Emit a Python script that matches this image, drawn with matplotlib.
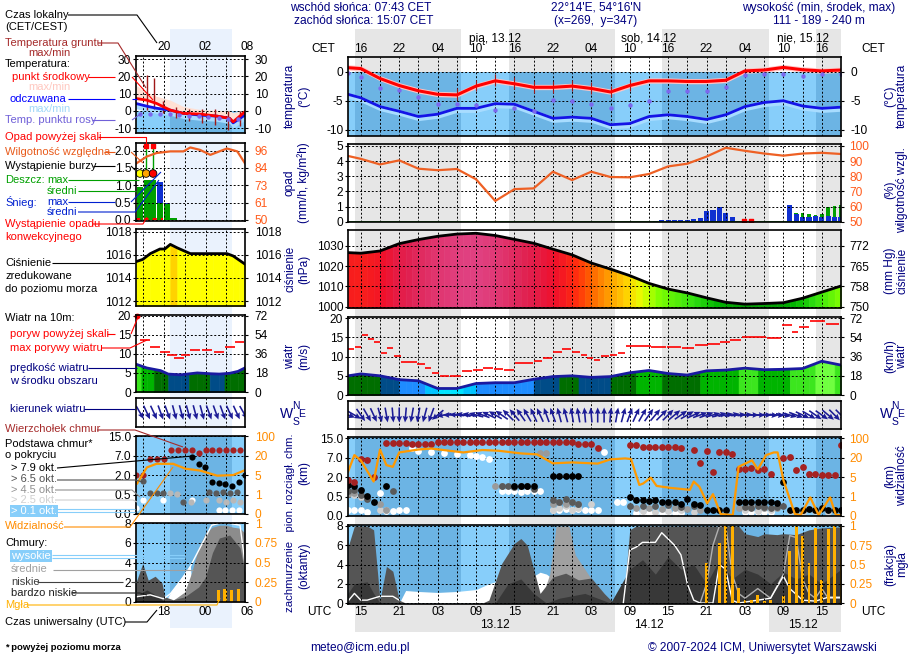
import numpy as np
import matplotlib.pyplot as plt
from matplotlib.colors import LinearSegmentedColormap

plt.rcParams['font.family'] = ['Liberation Sans', 'DejaVu Sans']
plt.rcParams['font.size'] = 8.6

# ---------------- main forecast, hours from 13.12 00 UTC ----------------
HOURS = [-11, -9, -6, -3, 0, 3, 6, 9, 12, 15, 18, 21, 24, 27, 30, 33, 36, 39, 42, 45, 48, 51, 54, 57, 60, 63, 66]
T_MID = [0.65, 0.5, -1.2, -2.4, -3.3, -3.9, -4.0, -2.5, -1.6, -2.1, -2.7, -2.7, -2.5, -2.9, -3.5, -2.4, -1.6, -1.6, -1.7, -1.7, -1.5, 0.1, 0.25, 0.7, 0.3, 0.1, 0.25]
T_FEEL = [-3.9, -4.5, -6.0, -6.8, -7.7, -7.3, -6.3, -6.3, -5.5, -5.6, -6.8, -8.0, -7.8, -8.0, -9.1, -8.9, -7.7, -7.4, -7.7, -8.2, -7.4, -6.0, -5.3, -5.0, -5.9, -6.3, -6.1]
T_DEW = [-0.3, -1.0, -2.8, -3.2, -4.3, -5.5, -5.6, -5.8, -6.5, -6.2, -6.8, -4.9, -5.1, -5.6, -6.2, -5.8, -5.0, -3.3, -3.3, -3.4, -2.6, -0.6, -0.4, -0.4, -0.8, -0.5, -0.5]
RH = [93.4, 91.5, 87.8, 90.5, 85.0, 84.0, 84.8, 78.0, 63.7, 71.5, 72.0, 83.0, 77.5, 83.0, 79.5, 79.3, 81.5, 86.5, 88.3, 93.0, 98.8, 96.8, 95.0, 93.6, 95.0, 95.5, 94.7]
PRES = [1026.6, 1026.3, 1027.4, 1031.0, 1033.0, 1034.6, 1035.7, 1036.1, 1035.0, 1033.1, 1031.2, 1028.3, 1025.5, 1021.5, 1018.5, 1015.3, 1011.5, 1008.7, 1006.8, 1004.4, 1002.2, 1001.3, 1001.6, 1002.0, 1004.2, 1007.2, 1010.2]
WIND = [5.0, 5.5, 5.0, 4.0, 3.7, 1.7, 1.7, 3.0, 3.2, 3.2, 4.1, 4.8, 5.0, 4.6, 4.8, 5.8, 6.4, 5.6, 5.2, 6.3, 6.5, 7.0, 6.6, 6.7, 6.9, 8.8, 7.8]

# wind direction (deg, from), hourly
DIR_H = list(range(-11, 67))
WIND_DIR = [290, 300, 325, 330, 335, 345, 350, 355, 0, 5, 10, 10, 15, 20,
            50, 80, 90, 95, 100, 100, 105, 110, 115, 120, 125,
            135, 140, 145, 150, 155, 155, 160, 160, 165, 165, 170, 170, 175, 175,
            180, 180, 185, 190, 195, 200, 205, 210, 215, 220, 225, 225, 230,
            235, 240, 245, 250, 250, 255, 255, 260, 260, 265, 265, 270, 270, 270,
            275, 275, 280, 285, 290, 295, 300, 305, 305, 310, 315, 315]

GUST_H = [-10.5, -9.4, -8.3, -7.4, -6.5, -5.4, -4.4, -3.4, -2.1, -0.9, 0.5, 1.5, 2.5, 4.0, 5.8, 7.6, 9.2, 11.0, 12.5, 14.1,
          15.9, 17.4, 18.6, 20.1, 21.7, 23.2, 24.7, 25.9, 26.8, 27.8, 29.1, 30.5, 31.7, 32.9, 35.1, 37.5, 40.0, 42.1, 44.2, 46.3,
          47.9, 49.4, 51.5, 53.3, 55.5, 57.9, 58.8, 60.0, 62.2, 64.9]
GUST = [11.9, 12.6, 15.6, 14.5, 13.9, 10.9, 12.2, 10.2, 8.5, 8.5, 8.0, 7.0, 5.7, 5.0, 5.0, 6.3, 6.5, 7.1, 6.7, 6.6,
        8.4, 8.4, 8.9, 9.6, 11.1, 11.9, 11.2, 10.5, 9.6, 9.0, 10.2, 10.4, 10.9, 12.8, 12.8, 12.6, 12.4, 12.2, 13.0, 13.4,
        13.9, 14.3, 15.0, 15.2, 14.8, 18.2, 16.5, 17.8, 19.2, 18.6]

SNOW_H = [37, 38, 39, 40, 41, 42, 43, 44, 45, 46, 47, 48, 49, 50, 51, 52, 53, 54, 55, 56, 57, 58, 59, 60, 61, 62, 63, 64, 65, 66]
SNOW = [0.03, 0.08, 0.08, 0.08, 0.1, 0.1, 0.15, 0.25, 0.7, 0.75, 1.0, 0.6, 0.3, 0, 0, 0, 0, 0, 0, 0, 0, 1.1, 0.5, 0.3, 0.3, 0.35, 0.3, 0.35, 0.3, 0.3]
RAIN_H = [58, 59, 60, 61, 62, 63, 64, 65, 66]
RAIN = [0.25, 0.6, 0.55, 0.5, 0.45, 0.5, 0.95, 1.05, 1.1]
CONV_H = [50.9, 51.9]

VIS_H = [-11, -10, -9, -7, -6, -5, -4, -3, 0, 2, 7, 10, 12.5, 16, 18.5, 21, 24, 28, 30, 32.3, 33.2, 34.5, 35.1, 36.3,
         37.2, 39.3, 42.4, 43, 43.9, 45.1, 46, 47.2, 49.1, 50, 52.1, 53, 54.3, 55.5, 56.1, 57, 58.8, 59.7, 61.2, 62.5,
         64.3, 65.2, 66]
VIS = [9.2, 31, 18, 4.1, 54, 14.3, 13, 42, 54, 58, 42, 52, 49, 38, 34, 15.7, 16.4, 15.5, 18.8, 19.5, 19, 3.4, 3.7, 4.9,
       3.2, 2.8, 2.4, 4.1, 3.0, 0.65, 1.5, 0.1, 0.05, 13, 18, 11, 31, 42, 42, 4.4, 0.1, 0.05, 0.96, 0.05,
       0.96, 0.05, 0.05]

TOP_H = [-11, -10, -9, -8, -7, -5, -4, -3, -2, -1, 0, 1, 2, 3, 4, 5, 6, 7, 8, 9, 10, 11, 12, 13, 14, 15, 16, 17, 18,
         19, 20, 21, 22, 23, 24, 25, 26, 27, 28, 33, 34, 35, 36, 37, 38, 39, 40, 41, 43, 44, 45, 46, 47, 48, 49, 50,
         51, 52, 53, 54, 55, 57, 58, 59, 60, 61, 62, 63, 64, 65, 66]
TOP_KM = [1.8, 1.6, 6.8, 6.3, 2.1, 12.9, 12.9, 12.9, 12.9, 12.7, 12.7, 12.7, 12.7, 13.5, 13.5, 13.5, 13.5, 13.5, 13.5,
          13.5, 13.5, 13.5, 13.5, 13.5, 13.5, 13.5, 13.5, 13.5, 13.5, 13.5, 13.5, 13.5, 13.5, 13.5, 13.5, 12.7, 12.7,
          12.7, 10.9, 12.3, 12.3, 11.3, 11.3, 11.3, 11.3, 11.3, 11.3, 11.0, 10.4, 5.7, 9.7, 3.4, 9.5, 9.5, 8.6, 4.2,
          4.0, 4.3, 3.9, 4.1, 2.7, 7.0, 7.2, 3.8, 4.7, 2.9, 2.8, 2.6, 2.6, 2.5, 12.3]
BLK_H = [-11, -10, -9, -8, -7, -5, 15, 16, 17, 18, 21, 22, 23, 24, 25, 33, 34, 35, 36, 37, 38, 39, 40, 41, 42, 43, 44,
         45, 46, 47, 48, 50, 51, 52, 53, 54, 55, 56, 57, 58, 59, 60, 61, 62, 63, 64, 65, 66]
BLK_KM = [1.4, 1.3, 1.0, 0.55, 0.35, 1.3, 1.3, 1.3, 1.3, 1.3, 2.2, 2.2, 2.2, 2.2, 2.2, 0.5, 0.4, 0.4, 0.38, 0.4, 0.37,
          0.36, 0.35, 0.3, 0.45, 0.3, 0.28, 0.15, 0.15, 0.15, 0.15, 0.37, 0.35, 0.35, 0.35, 0.35, 0.35, 0.33, 1.6, 0.15,
          0.15, 0.15, 0.18, 0.15, 0.2, 0.15, 0.15, 0.15]
DG_H = [-11, -10, -9, -8, -4, 13, 14, 15, 16, 17, 18, 21, 22, 23, 24, 25, 33, 35, 37, 39, 41, 43, 51, 52, 53, 54, 55, 56, 57]
DG_KM = [0.9, 1.0, 0.6, 0.45, 0.9, 1.3, 1.3, 1.25, 1.3, 1.3, 1.1, 0.4, 0.35, 0.45, 0.35, 0.3, 0.25, 0.25, 0.25, 0.28,
         0.22, 0.25, 0.22, 0.2, 0.25, 0.22, 0.2, 0.22, 0.25]
GR_H = [-11, -10, -6, -5, 12, 13, 19, 20, 21, 22, 23, 24, 25, 34, 36, 38, 40, 42, 44, 50, 52, 54, 56]
GR_KM = [0.7, 0.75, 0.3, 0.15, 1.3, 1.3, 9.0, 9.0, 0.3, 0.35, 0.3, 0.35, 0.3, 0.2, 0.2, 0.18, 0.2, 0.18, 0.15, 0.2, 0.25,
         0.2, 0.2]
LG_H = [-10, -9, -6, -5, 21, 22, 23, 24, 25, 27, 35, 37, 39, 41, 43, 51, 53, 55, 58, 60, 62, 64]
LG_KM = [0.6, 0.5, 0.15, 0.15, 0.15, 0.2, 0.25, 0.15, 0.2, 0.3, 0.12, 0.1, 0.12, 0.15, 0.1, 0.15, 0.12, 0.15, 0.12, 0.1,
         0.12, 0.1]
WH_H = [-11, -10, -9, -8, -6, -5, -4, -3, -2, -1, 0, 2, 4, 6, 8, 9, 10, 11, 13, 14, 15, 16, 17, 18, 19, 21, 22, 23, 24,
        25, 26, 27, 28, 29, 31, 32, 34, 35, 36, 37, 38, 39, 40, 41, 51, 52, 53, 54, 55]
WH_KM = [0.15, 0.15, 0.15, 0.1, 0.8, 0.12, 0.12, 0.15, 0.15, 11.0, 9.6, 9.3, 9.0, 8.6, 8.1, 7.8, 7.3, 6.6, 0.9, 0.9,
         0.9, 0.85, 0.9, 0.9, 0.95, 0.15, 0.15, 0.18, 0.15, 0.18, 0.15, 0.15, 0.15, 9.5, 0.37, 0.37, 0.08, 0.08, 0.08,
         0.08, 0.08, 0.08, 0.08, 0.08, 0.1, 0.1, 0.1, 0.1, 0.1]

# cloud cover (oktas)
LOW_H = [-11, -10, -8, -7, -6, -5, -4, -3, -2, 10, 11, 13, 15, 16, 17, 19, 21, 23, 25, 27, 29, 30.5, 32, 33, 34, 50,
         51, 53, 54, 56, 57, 59, 61, 63, 66]
LOW = [5.8, 8.0, 8.0, 7.6, 0.3, 3.8, 3.3, 0.3, 0, 0, 0.3, 4.1, 6.2, 6.7, 6.0, 1.0, 2.7, 3.1, 2.4, 2.6, 1.0, 0, 0, 7.6,
       8.0, 8.0, 7.2, 6.9, 7.2, 7.1, 7.2, 7.1, 7.6, 7.8, 7.9]
MID_H = [-11, 19, 20.5, 21.5, 23.5, 24.5, 26, 27, 29, 30, 66]
MID = [0, 0, 3.0, 8.0, 8.0, 5.0, 3.5, 2.5, 1.0, 0, 0]
VLOW_H = [-11, -10, -8, -7, -6, 12, 14, 16, 18, 20, 22, 26, 30, 33, 35, 37, 39, 41, 43, 45, 47, 49, 51, 53, 55, 57,
          59, 61, 63, 66]
VLOW = [1.0, 2.0, 2.2, 1.0, 0, 0, 2.0, 2.5, 1.0, 0, 0.5, 1.0, 0, 3.5, 4.5, 3.0, 4.8, 3.5, 4.0, 2.0, 4.5, 2.5, 3.5,
        3.0, 2.0, 3.2, 2.5, 3.0, 2.0, 3.5]
HIGHF_H = [-3, -2, 0, 3, 6, 9, 11, 13, 15, 16, 17, 18, 19, 20, 21, 22]
HIGHF = [0, 1.3, 1.2, 1.1, 1.2, 1.4, 2.0, 2.4, 2.0, 2.0, 2.8, 2.8, 3.2, 3.0, 2.5, 0]
HIGHL_H = [-11, -10, -9, -8, -6, -4, -3, -2, 32, 33, 34, 35, 37, 38, 40, 41, 42, 43, 44, 46, 47, 48, 49, 50, 55, 57,
           58, 60, 62, 64, 66]
HIGHL = [0.2, 1.0, 0.3, 0.3, 0.7, 0.7, 0.3, np.nan, 0, 5.5, 5.8, 6.3, 6.3, 7.3, 6.0, 5.0, 2.0, 0.3, 0, 0, 4.0, 3.5,
         0.3, 0, 0.5, 2.8, 1.5, 0.3, 0.2, 0.6, 0.6]
MIDL_H = [44, 45, 46, 47, 48, 49, 50, 51, 53, 55, 57, 58, 59, 60, 61, 62, 63, 64, 66]
MIDL = [0, 2.0, 6.0, 8.0, 8.0, 3.0, 1.0, 0.5, 1.5, 0.5, 3.0, 7.0, 6.8, 2.5, 1.0, 0.5, 1.5, 0.5, 0.5]
FOG_H = [45, 46, 47, 48, 49, 50, 51, 52, 53, 54, 55, 56, 57, 58, 59, 60, 61, 62, 63, 64, 65, 66]
FOG = [0.52, 0, 0.78, 1.0, 1.0, 0.19, 0.04, 0.04, 0.1, 0.03, 0.04, 0, 0.09, 0.67, 1.0, 0.87, 0.52, 0.98, 0.3, 0.96, 1.0, 1.0]

# ---------------- small panel (previous night), hours from 12.12 00 UTC ----------------
MT_H = [-10.1, -8.5, -7.1, -5.1, -3.2, -0.8, 1.7, 3.5, 4.0, 5.7]
MT_RED = [7.2, 6.2, 4.3, 0.4, -1.5, -1.9, -3.1, -4.4, -6.4, -0.6]
MT_MAX = [14.9, 11.0, 8.5, 6.2, 2.5, 0.8, 0.2, 0.0, -1.0, 0.5]
MT_BLUE = [4.3, 2.7, 1.5, 0.4, -1.5, -2.5, -3.1, -4.4, -7.0, -2.5]
MGT_H = [-8.5, -7.5, -6.1, -4.3, -2.4, -0.5, 1.4, 3.2, 5.0]
MGT_TOP = [21, 19, 6, 2, 1, 1, 1, 0, 0]
MGT_BOT = [0.5, 1, -1, -4, -6, -7, -8, -11, -9]
MD_H = [-9.5, -8.0, -6.6, -5.2, -3.8, -2.4, -1.0, 0.4, 1.9, 3.3, 4.7]
MD = [-1.8, -1.8, -1.8, -2.0, -2.5, -2.8, -3.0, -3.5, -4.0, -4.5, -5.0]
MR_H = [-10.1, -8.5, -7.1, -5.1, -3.2, -2.2, -0.8, 0.7, 3.1, 4.6, 5.7]
MR = [87.3, 92.1, 94.4, 95.5, 95.5, 98.1, 96.5, 93.2, 97.4, 95.5, 87.7]
MP_H = [-9.5, -8.5, -7.6, -6.6, -5.6, -4.6]
MP_RAIN = [0.94, 1.16, 1.16, 0.5, 0.45, 0.05]
MP_SNOW = [0, 0, 0, 0.6, 0.05, 0]
MS_H = [-9.5, -8.6, -7.6]
MPR_H = [-10.1, -9.1, -8.0, -6.6, -5.9, -5.1, -4.1, -2.2, -0.8, 3.1, 4.0, 5.7]
MPR = [1015.4, 1015.6, 1016.1, 1016.5, 1016.5, 1016.9, 1016.6, 1016.1, 1016.1, 1016.1, 1015.9, 1015.2]
MW_H = [-10.1, -8.5, -6.5, -5.4, -3.6, -1.2, 0.6, 2.0, 3.5, 4.7, 5.7]
MW = [7.3, 6.3, 5.6, 4.7, 4.5, 5.0, 4.8, 4.7, 4.9, 5.4, 6.3]
MGU_H = [-8.8, -7.3, -5.9, -4.9, -3.8, -2.9, -1.5, 0.2, 2.0, 3.5, 4.9]
MGU = [13.7, 11.9, 10.6, 9.7, 8.9, 9.7, 11.0, 10.9, 10.6, 11.7, 13.0]
MDIR_H = [-9.5, -8.5, -7.5, -6.5, -5.5, -4.5, -3.5, -2.5, -1.5, -0.5, 0.5, 1.5, 2.5, 3.5, 4.5, 5.5]
MDIR = [330, 335, 335, 340, 340, 345, 345, 345, 345, 345, 340, 340, 340, 335, 335, 330]
MTOP_H = [-10, -9, -8, -7, -6, -5, -4, -3, -2, -1, 0, 1, 2, 3, 4, 5]
MTOP = [2.0, 2.0, 6.2, 6.2, 6.2, 9.4, 9.4, 9.4, 9.4, 8.0, 9.4, 9.4, 9.4, 9.4, 9.4, 9.4]
MBLK_H = [-2.0, -1.0, -0.1, 0.9, 1.9, 2.8, 3.9, 4.9, 5.7]
MBLK = [6.8, 4.9, 4.0, 1.5, 1.4, 1.3, 1.2, 1.5, 2.0]
MDG_H = [-9.0, -8.0, -7.1, -6.1, -3.3, 0.5, 1.5, 2.5, 3.5, 4.5]
MDG = [1.55, 0.6, 0.6, 0.6, 0.3, 0.7, 0.6, 0.7, 0.6, 0.7]
MLG_H = [-5.1, -4.1, -2.1, 0.0, 2.0, 3.0, 4.0, 5.0]
MLG = [0.6, 0.55, 0.3, 0.35, 0.35, 0.3, 0.35, 0.3]
MWH_H = [-10.0, -9.0, -6.1, -2.0, 1.9, 2.8, 3.8, 4.8]
MWH = [0.15, 0.35, 0.35, 0.35, 0.1, 0.1, 0.1, 0.1]
MV_H = [-9.9, -8.5, -7.1, -4.7, -2.9, -0.8, 1.7, 4.0, 5.6]
MV = [3.3, 11, 13.8, 13.8, 10, 8.6, 4.9, 5.1, 8.6]
ML_H = [-10.1, -9.1, -8.3, -7.3, -6.3, -5.9, -4.7, -3.0, -1.0, 0.0, 1.0, 2.0, 3.5, 5.0, 5.7]
ML = [1.9, 3.9, 2.2, 2.6, 1.9, 0.5, 0.2, 0.5, 1.5, 2.5, 5.0, 6.5, 6.8, 5.5, 3.0]
MM_H = [-5.0, -3.0, -2.0, -1.0, 0.0, 1.0, 2.0, 3.0, 4.0, 5.0, 5.7]
MM = [0, 1.0, 3.0, 5.5, 7.0, 7.6, 7.8, 7.8, 7.6, 7.5, 7.0]
MHI_H = [-5.8, -5.0, -4.0, -3.0, -2.2, -1.8]
MHI = [0, 1.0, 2.0, 3.0, 3.7, 0]
MVL_H = [-10.1, -9.5, -8.5, -7.5, -6.5, -5.9]
MVL = [0.3, 0.8, 1.2, 0.8, 0.3, 0]
MHL_H = [-10.1, -8.0, -6.1, -5.1, -3.2, -2.2, 0.9, 2.0, 3.5, 5.0, 5.7]
MHL = [0.5, 0.7, 0.3, 0.8, 2.5, 3.6, 7.8, 8.0, 8.0, 7.8, 4.0]
MF_H = [1.9, 2.8, 3.8, 4.8]
MF = [0.15, 0.16, 0.15, 0.16]

MMHG_LABELS = ['750', '758', '765', '772']
DAY_LABELS = ['pią, 13.12', 'sob, 14.12', 'nie, 15.12']
DATE_LABELS = ['13.12', '14.12', '15.12']
SUNRISE = 6 + 43 / 60   # UTC
SUNSET = 14 + 7 / 60

# ---------------- layout helpers ----------------
W, H = 910, 660
fig = plt.figure(figsize=(W / 100, H / 100), dpi=100)
NAVY = '#000080'
GRAY = '#e6e6e6'
SKY_D, SKY_N = '#87cefa', '#6cb4e4'
XL = (-11, 66)
XLM = (-10.07, 5.72)
MAIN_GRID = list(range(-9, 67, 3))
MINI_GRID = [-9, -6, -3, 0, 3]
MX0, MX1 = 348, 841
NX0, NX1 = 136, 245

NIGHTS = []
for d in range(4):
    NIGHTS.append((max(SUNSET + 24 * (d - 1), XL[0]), min(SUNRISE + 24 * d, XL[1])))
MINI_BAND = [(-5.1, 3.8)]


def px_axes(x0, y0, x1, y1, z=2):
    return fig.add_axes([x0 / W, 1 - y1 / H, (x1 - x0) / W, (y1 - y0) / H], zorder=z)


def segments(xl, bands):
    out, x = [], xl[0]
    for a, b in bands:
        if a > x:
            out.append((x, a, False))
        out.append((a, b, True))
        x = b
    if x < xl[1]:
        out.append((x, xl[1], False))
    return out


def panel(x0, y0, x1, y1, xl, grid, ylim, yticks, ylabels):
    ax = px_axes(x0, y0, x1, y1, 2)
    ax.set_facecolor('none')
    ax.set_xlim(xl)
    ax.set_ylim(ylim)
    ax.set_xticks(grid)
    ax.tick_params(axis='x', length=0, labelbottom=False)
    ax.set_yticks(yticks)
    ax.set_yticklabels(ylabels)
    ax.tick_params(axis='y', length=2, width=0.8, pad=1.5, labelsize=8.6)
    ax.grid(True, color='black', lw=0.7, ls=(0, (2, 2)))
    ax.set_axisbelow(False)
    for s in ax.spines.values():
        s.set_linewidth(1.2)
        s.set_zorder(6)
    return ax


def right_axis(ax, ticks, labels, color='black', pad=4):
    t = ax.twinx()
    t.set_zorder(ax.get_zorder())
    t.set_ylim(ax.get_ylim())
    t.set_yticks(ticks)
    t.set_yticklabels(labels, color=color)
    t.tick_params(axis='y', length=2, width=0.8, pad=pad, labelsize=8.6)
    for s in t.spines.values():
        s.set_visible(False)


def band_fill(ax, xl, bands, y0, y1, c_out, c_in):
    for a, b, inside in segments(xl, bands):
        ax.fill_between([a, b], y0, y1, color=c_in if inside else c_out, lw=0, zorder=0.8)


def strips(ax, hs, vs, base, colorfn):
    for i in range(len(hs) - 1):
        h0, h1, v0, v1 = hs[i], hs[i + 1], vs[i], vs[i + 1]
        n = max(1, int(round(h1 - h0)))
        for k in range(n):
            a, b = h0 + (h1 - h0) * k / n, h0 + (h1 - h0) * (k + 1) / n
            va, vb = v0 + (v1 - v0) * k / n, v0 + (v1 - v0) * (k + 1) / n
            c = colorfn(0.5 * (va + vb))
            ax.fill_between([a, b], base, [va, vb], facecolor=c, edgecolor=c, lw=0.4, zorder=1)


P_NODES = [1000, 1003, 1006, 1010, 1013, 1016, 1019, 1022, 1025, 1028, 1032, 1036]
P_COLORS = ['#0a8c0a', '#00b400', '#30e010', '#80ff00', '#e8ff00', '#ffd000', '#ff9a00', '#ff5a00', '#ff2a10',
            '#f0102a', '#e02050', '#e04080']
pcmap = LinearSegmentedColormap.from_list('pres', [((v - 1000) / 36, c) for v, c in zip(P_NODES, P_COLORS)])
W_EDGES = [2, 3, 4.05, 4.85, 6, 6.8, 8, 8.7]
W_COLORS = ['#00e4ff', '#00c4ff', '#1e8cff', '#004c88', '#006e00', '#00b400', '#3ce61e', '#70ff40', '#c8ffa8']


def wind_color(v):
    return W_COLORS[int(np.searchsorted(W_EDGES, v, side='right'))]


def base_pos(v):
    return np.interp(v, [0, 0.5, 2, 7, 15], [0, 1, 2, 3, 4])


def vis_pos(v):
    return np.interp(v, [0, 1, 5, 20, 100], [0, 1, 2, 3, 4])


def arrows(ax, hs, dirs, length):
    d = np.radians(dirs)
    ax.quiver(hs, np.full(len(hs), 0.5), -np.sin(d) * length, -np.cos(d) * length, angles='uv',
              scale_units='dots', scale=1, units='dots', width=1.6, headwidth=3.6, headlength=4,
              headaxislength=3.6, pivot='middle', color='#1c1c96', zorder=3)


# ---------------- background columns ----------------
col = px_axes(MX0, 29, MX1, 604, 0.5)
col.set_xlim(XL)
col.axis('off')
for a, b in NIGHTS:
    col.axvspan(a, b, color=GRAY, lw=0)
mcol = px_axes(NX0, 29, NX1, 628, 0.5)
mcol.set_xlim(XLM)
mcol.axis('off')
for a, b in MINI_BAND:
    mcol.axvspan(a, b, color='#eaf2fd', lw=0)

# top / bottom time strips
top = px_axes(MX0, 29, MX1, 57, 1)
top.set_xlim(XL)
top.set_ylim(0, 1)
top.axis('off')
for h in range(-9, 66, 6):
    top.text(h, 0.27, f'{(h + 1) % 24:02d}', ha='center', va='center')
for h, s in zip([12, 36, 60], DAY_LABELS):
    top.text(h, 0.66, s, ha='center', va='center')

bot = px_axes(MX0, 604, MX1, 632, 1)
bot.set_xlim(XL)
bot.set_ylim(0, 1)
bot.axis('off')
for a, b in [(NIGHTS[0][0], NIGHTS[1][1]), (NIGHTS[2][1], XL[1])]:
    bot.axvspan(a, b, color=GRAY, lw=0)
for h in range(-9, 66, 6):
    bot.text(h, 0.7, f'{h % 24:02d}', ha='center', va='center')
for h, s in zip([12, 36, 60], DATE_LABELS):
    bot.text(h, 0.25, s, ha='center', va='center')

mtop = px_axes(NX0, 29, NX1, 56, 1)
mtop.set_xlim(XLM)
mtop.axis('off')
for h, s in zip([-6, 0, 6], ['20', '02', '08']):
    mtop.text(h, 0.33, s, ha='center', va='center')
mbot = px_axes(NX0, 602, NX1, 628, 1)
mbot.set_xlim(XLM)
mbot.axis('off')
for h, s in zip([-6, 0, 6], ['18', '00', '06']):
    mbot.text(h, 0.6, s, ha='center', va='center')

h = np.array(HOURS, dtype=float)

# ---------------- main: temperature ----------------
ax = panel(MX0, 57, MX1, 136, XL, MAIN_GRID, (-11.03, 2.48), [0, -5, -10], ['0', '-5', '-10'])
band_fill(ax, XL, NIGHTS, -11.03, 0, SKY_D, SKY_N)
tm, tf = np.array(T_MID), np.array(T_FEEL)
ax.fill_between(h, tf - 0.7, tf + 0.3, color='#a8dcff', lw=0, zorder=2.2)
ax.fill_between(h, tm - 0.4, tm + 0.5, color='#ffc4c4', lw=0, zorder=2.2)
sel = (h >= 6) & (h <= 33)
ax.vlines(h[sel], tm[sel] - 0.9, tm[sel] + 1.1, color='#a01818', lw=0.8, zorder=3)
ax.plot(h, tf, color='#1414e6', lw=2, zorder=3.2)
ax.plot(h, tm, color='#ff0000', lw=2.2, zorder=3.3)
ax.scatter(h, T_DEW, s=10, color='#7b68ee', lw=0, zorder=3.4)
right_axis(ax, [0, -5, -10], ['0', '-5', '-10'], pad=5)

# ---------------- main: precipitation / humidity ----------------
ax = panel(MX0, 144, MX1, 222, XL, MAIN_GRID, (-0.02, 5.13), [0, 1, 2, 3, 4, 5], ['0', '1', '2', '3', '4', '5'])
ax.bar(RAIN_H, RAIN, width=0.55, color='#00a000', lw=0, zorder=1.5)
ax.bar(SNOW_H, SNOW, width=0.8, color='#1030d0', lw=0, zorder=1.6)
ax.axhline(0, color='#00a000', lw=1.2, zorder=3)
ax.plot(h, (np.array(RH) - 50) / 10, color='#ee6024', lw=1.6, zorder=3)
ax.scatter(CONV_H, np.zeros(len(CONV_H)) + 0.05, marker='s', s=8, color='red', zorder=4)
right_axis(ax, [0, 1, 2, 3, 4, 5], ['50', '60', '70', '80', '90', '100'], color='#ff5a1a')

# ---------------- main: pressure ----------------
ax = panel(MX0, 230, MX1, 308, XL, MAIN_GRID, (999.4, 1037.7), [1000, 1010, 1020, 1030],
           ['1000', '1010', '1020', '1030'])
strips(ax, HOURS, PRES, 999.4, lambda v: pcmap((v - 1000) / 36))
ax.plot(h, PRES, color='black', lw=2, zorder=3)
right_axis(ax, [1000, 1010, 1020, 1030], MMHG_LABELS)

# ---------------- main: wind ----------------
ax = panel(MX0, 317, MX1, 395, XL, MAIN_GRID, (0, 20.34), [0, 5, 10, 15, 20], ['0', '5', '10', '15', '20'])
strips(ax, HOURS, WIND, 0, wind_color)
ax.plot(h, WIND, color='#1a1aa0', lw=2, zorder=3)
gh = np.array(GUST_H)
mids = (gh[1:] + gh[:-1]) / 2
left = np.concatenate([[gh[0] - 0.6], mids + 0.05])
right = np.concatenate([mids - 0.05, [gh[-1] + 0.8]])
ax.hlines(GUST, left, right, color='red', lw=1.2, zorder=3.5)
right_axis(ax, [0, 5, 10, 15, 20], ['0', '18', '36', '54', '72'])

# ---------------- main: wind direction ----------------
ax = panel(MX0, 401, MX1, 429, XL, MAIN_GRID, (0, 1), [], [])
arrows(ax, DIR_H, WIND_DIR, 15)

# ---------------- main: cloud base / visibility ----------------
ax = panel(MX0, 437, MX1, 516, XL, MAIN_GRID, (0, 4.07), [0, 1, 2, 3, 4], ['0.0', '0.5', '2.0', '7.0', '15.0'])
band_fill(ax, XL, NIGHTS, 0, 4.07, SKY_D, SKY_N)
for hs, km, c in [(WH_H, WH_KM, 'white'), (LG_H, LG_KM, '#d0d0d0'), (GR_H, GR_KM, '#9a9a9a'),
                  (DG_H, DG_KM, '#5a5a5a'), (BLK_H, BLK_KM, 'black'), (TOP_H, TOP_KM, '#a52222')]:
    ax.scatter(hs, base_pos(km), s=24, color=c, lw=0, zorder=3)
ax.plot(VIS_H, vis_pos(VIS), color='#ff9900', lw=1.6, zorder=3.5)
right_axis(ax, [0, 1, 2, 3, 4], ['0', '1', '5', '20', '100'], color='#ff8c00')

# ---------------- main: cloud cover / fog ----------------
ax = panel(MX0, 525, MX1, 604, XL, MAIN_GRID, (-0.1, 8.1), [0, 2, 4, 6, 8], ['0', '2', '4', '6', '8'])
band_fill(ax, XL, NIGHTS, -0.1, 8.1, SKY_D, SKY_N)
ax.fill_between(HIGHF_H, 0, HIGHF, color='white', lw=0, zorder=1)
ax.fill_between(MID_H, 0, MID, color='#a0a0a0', lw=0, zorder=1.1)
ax.fill_between(LOW_H, 0, LOW, color='#555555', lw=0, zorder=1.2)
ax.fill_between(VLOW_H, 0, VLOW, color='#383838', lw=0, zorder=1.3)
ax.plot(MIDL_H, MIDL, color='#b0b0b0', lw=1, zorder=1.4)
ax.plot(HIGHL_H, HIGHL, color='white', lw=1, zorder=1.5)
ax.bar(FOG_H, np.array(FOG) * 8, width=0.45, color='#ffb000', lw=0, zorder=1.8)
right_axis(ax, [0, 2, 4, 6, 8], ['0', '0.25', '0.5', '0.75', '1'], color='#ff8c00')

# ---------------- small panel ----------------
ax = panel(NX0, 56, NX1, 133, XLM, MINI_GRID, (-12.9, 31.9), [30, 20, 10, 0, -10], ['30', '20', '10', '0', '-10'])
band_fill(ax, XLM, MINI_BAND, -12.9, 0, SKY_D, SKY_N)
mb = np.array(MT_BLUE)
ax.fill_between(MT_H, mb - 3, mb, color='#a8dcff', lw=0, zorder=2.2)
ax.fill_between(MT_H, MT_RED, MT_MAX, color='#ffe0d4', lw=0, zorder=2.2)
ax.vlines(MGT_H, MGT_BOT, MGT_TOP, color='#a01818', lw=1, zorder=3)
ax.plot(MT_H, MT_BLUE, color='#1414e6', lw=2, zorder=3.2)
ax.plot(MT_H, MT_RED, color='#ff0000', lw=2, zorder=3.3)
ax.scatter(MD_H, MD, s=10, color='#7b68ee', lw=0, zorder=3.4)
right_axis(ax, [30, 20, 10, 0, -10], ['30', '20', '10', '0', '-10'], pad=5)

ax = panel(NX0, 143, NX1, 221, XLM, MINI_GRID, (-0.03, 2.22), [0, 0.5, 1, 1.5, 2], ['0.0', '0.5', '1.0', '1.5', '2.0'])
ax.bar(MP_H, MP_RAIN, width=0.95, color='#00a000', lw=0, zorder=1.5)
ax.bar(MP_H, MP_SNOW, bottom=MP_RAIN, width=0.95, color='#1030d0', lw=0, zorder=1.6)
ax.vlines(MS_H[1:], 1.34, 2.12, color='#00a000', lw=1, zorder=3)
ax.hlines(0.02, MP_H[0] - 0.5, MP_H[3] + 0.5, color='red', lw=1.5, ls=(0, (2, 2)), zorder=3)
ax.plot(MR_H, (np.array(MR) - 50) / 23, color='#ee6024', lw=1.6, zorder=3)
ax.scatter(MS_H, [1.34, 1.34, 1.34], s=30, color=['#ffff00', '#ffa500', '#ff0000'], edgecolor='black', lw=0.6, zorder=4)
ax.scatter(MS_H[1:], [2.12, 2.12], marker='s', s=12, color='red', zorder=4)
right_axis(ax, [0, 0.5, 1, 1.5, 2], ['50', '61', '73', '84', '96'], color='#ff5a1a', pad=5)

ax = panel(NX0, 229, NX1, 306, XLM, MINI_GRID, (1011.57, 1018.23), [1012, 1014, 1016, 1018],
           ['1012', '1014', '1016', '1018'])
strips(ax, MPR_H, MPR, 1011.57, lambda v: '#ffd200' if v > 1016.7 else '#ffff00')
ax.plot(MPR_H, MPR, color='black', lw=2, zorder=3)
right_axis(ax, [1012, 1014, 1016, 1018], ['1012', '1014', '1016', '1018'], pad=5)

ax = panel(NX0, 315, NX1, 392, XLM, MINI_GRID, (0, 20.18), [0, 5, 10, 15, 20], ['0', '5', '10', '15', '20'])
strips(ax, MW_H, MW, 0, wind_color)
ax.plot(MW_H, MW, color='#1a1aa0', lw=2, zorder=3)
ax.hlines(MGU, np.array(MGU_H) - 0.7, np.array(MGU_H) + 0.7, color='red', lw=1.2, zorder=3.5)
ax.scatter([-9.9], [19.9], s=10, color='red', zorder=4, clip_on=False)
right_axis(ax, [0, 5, 10, 15, 20], ['0', '18', '36', '54', '72'], pad=5)

ax = panel(NX0, 398, NX1, 427, XLM, MINI_GRID, (0, 1), [], [])
arrows(ax, MDIR_H, MDIR, 15)

ax = panel(NX0, 436, NX1, 514, XLM, MINI_GRID, (0, 4.02), [0, 1, 2, 3, 4], ['0.0', '0.5', '2.0', '7.0', '15.0'])
band_fill(ax, XLM, MINI_BAND, 0, 4.02, SKY_D, SKY_N)
for hs, km, c in [(MWH_H, MWH, 'white'), (MLG_H, MLG, '#b8b8b8'), (MDG_H, MDG, '#5a5a5a'),
                  (MBLK_H, MBLK, 'black'), (MTOP_H, MTOP, '#a52222')]:
    ax.scatter(hs, base_pos(km), s=20, color=c, lw=0, zorder=3)
ax.plot(MV_H, vis_pos(MV), color='#ff9900', lw=1.6, zorder=3.5)
right_axis(ax, [0, 1, 2, 3, 4], ['0', '1', '5', '20', '100'], color='#ff8c00', pad=5)

ax = panel(NX0, 523, NX1, 602, XLM, MINI_GRID, (-0.03, 8.03), [0, 2, 4, 6, 8], ['0', '2', '4', '6', '8'])
band_fill(ax, XLM, MINI_BAND, -0.03, 8.03, SKY_D, SKY_N)
ax.fill_between(MHI_H, 0, MHI, color='white', lw=0, zorder=1)
ax.fill_between(MM_H, 0, MM, color='#8c8c8c', lw=0, zorder=1.1)
ax.fill_between(ML_H, 0, ML, color='#555555', lw=0, zorder=1.2)
ax.fill_between(MVL_H, 0, MVL, color='#333333', lw=0, zorder=1.3)
ax.plot(MHL_H, MHL, color='white', lw=1, zorder=1.5)
ax.bar(MF_H, np.array(MF) * 8, width=0.5, color='#ffb000', lw=0, zorder=1.8)
right_axis(ax, [0, 2, 4, 6, 8], ['0', '0.25', '0.5', '0.75', '1'], color='#ff8c00', pad=5)

# ---------------- texts ----------------
ov = fig.add_axes([0, 0, 1, 1], zorder=30)
ov.set_xlim(0, W)
ov.set_ylim(H, 0)
ov.axis('off')


def label(x, y, s, color='black', ha='left', **kw):
    ov.text(x, y, s, color=color, ha=ha, va='center', **kw)


def note(x, y, s, color='black', size=8.0, **kw):
    ov.text(x, y, s, color=color, ha='left', va='center', fontsize=size, **kw)


def rot(x, y, s, color=NAVY, size=8.6):
    ov.text(x, y, s, color=color, ha='center', va='center', rotation=90, fontsize=size)


def link(pts, color, lw=0.8):
    xs, ys = zip(*pts)
    ov.plot(xs, ys, color=color, lw=lw, solid_capstyle='butt')


label(290, 8, 'wschód słońca: 07:43 CET', NAVY)
label(294, 21, 'zachód słońca: 15:07 CET', NAVY)
label(596, 8, "22°14'E, 54°16'N", NAVY, ha='center')
label(596, 21, '(x=269,  y=347)', NAVY, ha='center')
label(819, 8, 'wysokość (min, środek, max)', NAVY, ha='center')
label(819, 21, '111 - 189 - 240 m', NAVY, ha='center')
label(323, 49, 'CET', ha='center')
label(873, 49, 'CET', ha='center')
label(319, 612, 'UTC', ha='center')
label(873, 612, 'UTC', ha='center')
label(310, 648, 'meteo@icm.edu.pl', NAVY)
label(877, 648, '© 2007-2024 ICM, Uniwersytet Warszawski', NAVY, ha='right')

rot(290, 96, 'temperatura')
rot(304, 96, '(°C)')
rot(290, 183, 'opad')
rot(304, 183, '(mm/h, kg/m²h)')
rot(290, 269, 'ciśnienie')
rot(304, 269, '(hPa)')
rot(290, 356, 'wiatr')
rot(304, 356, '(m/s)')
rot(290, 523, 'zachmurzenie   pion. rozciągł. chm.', size=8.2)
rot(304, 473, '(km)')
rot(304, 566, '(oktanty)')
rot(890, 96, '(°C)')
rot(902, 96, 'temperatura')
rot(890, 190, '(%)')
rot(902, 190, 'wilgotność wzgl.')
rot(890, 271, '(mm Hg)')
rot(902, 271, 'ciśnienie')
rot(890, 356, '(km/h)')
rot(902, 356, 'wiatr')
rot(890, 476, '(km)')
rot(902, 476, 'widzialność')
rot(890, 564, '(frakcja)')
rot(902, 564, 'mgła')
for x0 in (287, 886):
    label(x0, 414, 'W', NAVY, ha='center', fontsize=10)
    label(x0 + 9, 406, 'N', NAVY, ha='center', fontsize=7.5)
    label(x0 + 9, 422, 'S', NAVY, ha='center', fontsize=7.5)
    label(x0 + 15, 414, 'E', NAVY, ha='center', fontsize=7.5)

BROWN = '#a52a2a'
note(5, 15, 'Czas lokalny')
note(5, 27, '(CET/CEST)')
link([(68, 15), (137, 15), (157, 43)], 'black')
note(5, 43, 'Temperatura gruntu', BROWN)
note(28, 53, 'max/min', BROWN)
link([(98, 43), (118, 43), (146, 88)], BROWN)
note(5, 64, 'Temperatura:')
note(12, 77, 'punkt środkowy', 'red')
link([(88, 77), (115, 77)], 'red')
link([(132, 77), (153, 100)], 'red')
note(28, 87, 'max/min', '#ffc8c0')
note(10, 99, 'odczuwana', '#0000ff')
link([(68, 99), (115, 99)], '#0000ff')
link([(132, 99), (137, 99)], '#0000ff')
note(28, 109, 'max/min', '#a0d8f8')
note(5, 120, 'Temp. punktu rosy', '#7060d8')
link([(92, 120), (115, 120)], '#7060d8')
link([(132, 120), (142, 113)], '#7060d8')
note(5, 137, 'Opad powyżej skali', 'red')
link([(98, 137), (146, 137), (146, 146)], 'red')
note(5, 152, 'Wilgotność względna', '#e85a1a')
link([(104, 152), (115, 152)], '#e85a1a')
link([(131, 152), (143, 163)], '#e85a1a')
note(5, 166, 'Wystąpienie burzy')
link([(93, 166), (115, 166)], 'black')
link([(131, 166), (135, 170)], 'black')
note(5, 180, 'Deszcz:', '#00a000')
note(47, 180, 'max', '#00a000')
link([(68, 180), (139, 180)], '#00a000')
note(47, 191, 'średni', '#00a000')
link([(78, 191), (136, 191)], '#00a000')
note(5, 202, 'Śnieg:', '#0020d0')
note(47, 202, 'max', '#0020d0')
link([(68, 202), (115, 202)], '#0020d0')
link([(131, 202), (161, 172)], '#0020d0')
note(47, 212, 'średni', '#0020d0')
link([(78, 212), (135, 212), (159, 180)], '#0020d0')
note(5, 224, 'Wystąpienie opadu', 'red')
note(5, 237, 'konwekcyjnego', 'red')
link([(92, 224), (143, 224), (147, 217)], 'red')
note(5, 263, 'Ciśnienie')
note(5, 276, 'zredukowane')
note(5, 289, 'do poziomu morza')
link([(52, 263), (135, 263)], 'black')
note(5, 318, 'Wiatr na 10m:')
note(10, 334, 'poryw powyżej skali', 'red')
link([(107, 334), (115, 334)], 'red')
link([(131, 334), (138, 317)], 'red')
note(10, 348, 'max porywy wiatru', 'red')
link([(101, 348), (130, 348), (147, 340)], 'red')
note(10, 368, 'prędkość wiatru', NAVY)
note(10, 381, 'w środku obszaru', NAVY)
link([(88, 368), (137, 368)], NAVY)
note(10, 409, 'kierunek wiatru', NAVY)
link([(84, 409), (135, 409)], NAVY)
note(5, 429, 'Wierzchołek chmur', BROWN)
link([(97, 430), (135, 430), (183, 447)], BROWN)
note(5, 444, 'Podstawa chmur*')
note(5, 455, 'o pokryciu')
note(11, 468, '> 7.9 okt.')
link([(57, 468), (193, 456)], 'black')
note(11, 479, '> 6.5 okt.', '#505050')
link([(57, 480), (135, 480), (143, 482)], '#505050')
note(11, 490, '> 4.5 okt.', '#909090')
link([(55, 490), (132, 490), (140, 497)], '#909090')
note(11, 500, '> 2.5 okt.', '#d0d0d0')
link([(55, 500), (133, 500), (137, 502)], '#d0d0d0')
note(11, 511, '> 0.1 okt.', 'white', bbox=dict(facecolor='#87cefa', edgecolor='none', pad=0.8))
link([(55, 509), (135, 509)], '#87cefa')
link([(55, 512), (135, 512)], '#87cefa')
note(5, 526, 'Widzialność', '#ff8c00')
link([(64, 527), (130, 527), (173, 467)], '#ff8c00')
note(5, 543, 'Chmury:')
note(11, 556, 'wysokie', 'white', bbox=dict(facecolor='#87cefa', edgecolor='none', pad=0.8))
link([(52, 555), (185, 555)], '#87cefa')
link([(52, 558), (185, 558)], '#87cefa')
note(11, 569, 'średnie', '#a0a0a0')
link([(53, 570), (193, 570)], '#a0a0a0')
note(11, 582, 'niskie', '#404040')
link([(37, 582), (123, 582)], '#404040')
link([(131, 582), (137, 582)], '#404040')
note(11, 593, 'bardzo niskie', '#202020')
link([(72, 593), (140, 593), (147, 595)], '#202020')
note(5, 605, 'Mgła', '#ffb000')
link([(28, 605), (217, 605), (220, 598)], '#ffb000')
note(5, 622, 'Czas uniwersalny (UTC)')
link([(125, 622), (147, 622), (157, 610)], 'black')
note(5, 648, '* powyżej poziomu morza', size=6.8, fontweight='bold')

fig.savefig('out.png', dpi=100)
